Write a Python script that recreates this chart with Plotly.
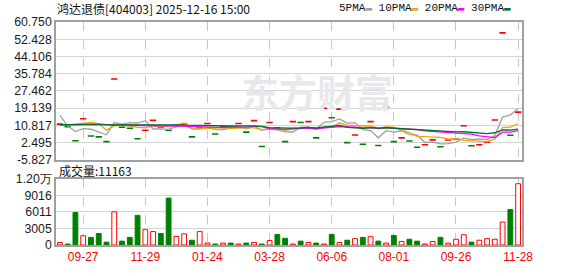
import plotly.graph_objects as go

# ---------------- data ----------------
dates = [
    "2024-09-06", "2024-09-13", "2024-09-20", "2024-09-27", "2024-10-11", "2024-10-18",
    "2024-10-25", "2024-11-01", "2024-11-08", "2024-11-15", "2024-11-22", "2024-11-29",
    "2024-12-06", "2024-12-13", "2024-12-20", "2024-12-27", "2025-01-03", "2025-01-10",
    "2025-01-17", "2025-01-24", "2025-02-07", "2025-02-14", "2025-02-21", "2025-02-28",
    "2025-03-07", "2025-03-14", "2025-03-21", "2025-03-28", "2025-04-03", "2025-04-11",
    "2025-04-18", "2025-04-25", "2025-05-09", "2025-05-16", "2025-05-23", "2025-06-06",
    "2025-06-13", "2025-06-20", "2025-06-27", "2025-07-04", "2025-07-11", "2025-07-18",
    "2025-07-25", "2025-08-01", "2025-08-08", "2025-08-15", "2025-08-22", "2025-08-29",
    "2025-09-05", "2025-09-12", "2025-09-19", "2025-09-26", "2025-10-10", "2025-10-17",
    "2025-10-24", "2025-10-31", "2025-11-07", "2025-11-14", "2025-11-21", "2025-11-28",
]

close = [11.4, 10.2, 3.4, 14.0, 5.7, 5.25, 2.95, 33.2, 9.87, 9.4,
         4.35, 8.48, 13.24, 10.0, 8.48, 11.0, 11.4, 5.25, 9.5, 11.7,
         6.63, 10.2, 9.9, 11.7, 7.55, 13.1, 0.63, 12.2, 9.6, 2.94,
         12.63, 12.17, 12.63, 4.78, 19.1, 14.47, 18.65, 2.48, 6.17, 1.71,
         12.63, 1.1, 19.6, 2.94, 4.78, 3.25, 0.25, 1.45, 3.8, 0.5,
         3.75, 4.2, 10.65, 0.96, 1.42, 2.65, 13.4, 55.5, 6.04, 17.2]

rising = [1, 0, 0, 1, 0, 0, 0, 1, 0, 0,
          0, 1, 1, 0, 0, 1, 1, 0, 1, 1,
          0, 1, 0, 1, 0, 1, 0, 1, 0, 0,
          1, 0, 1, 0, 1, 0, 1, 0, 1, 0,
          1, 0, 1, 0, 1, 0, 0, 1, 1, 0,
          1, 1, 1, 0, 1, 1, 1, 1, 0, 1]

volume = [458, 172, 5920, 1680, 1390, 2090, 520, 6040, 700, 1390,
          5400, 2790, 2440, 2090, 8540, 1570, 2030, 870, 2440, 350,
          172, 350, 350, 172, 350, 465, 172, 810, 1920, 1220,
          172, 700, 465, 350, 172, 1920, 465, 870, 1160, 1390,
          1510, 700, 350, 1740, 640, 1045, 700, 172, 640, 1390,
          350, 1045, 1860, 520, 870, 1160, 1045, 4180, 6450, 11163]

ma5 = [15.6, 10.6, 7.8, 9.2, 8.95, 7.7, 6.26, 12.2, 11.43, 12.1,
       11.95, 13.06, 9.07, 9.1, 8.91, 10.24, 10.82, 9.23, 9.13, 9.77,
       8.9, 8.66, 9.59, 10.03, 9.2, 10.49, 8.58, 9.04, 8.62, 7.69,
       7.6, 9.9, 9.99, 9.03, 12.26, 12.63, 13.93, 11.9, 12.17, 8.7,
       8.33, 4.82, 8.24, 7.6, 8.21, 6.33, 6.16, 2.53, 2.71, 1.85,
       1.95, 2.74, 4.58, 4.01, 4.2, 3.98, 5.82, 14.79, 15.8, 18.96]

ma10 = [11.09, 10.9, 11.4, 11.86, 12.2, 11.55, 8.5, 10.6, 10.78, 10.54,
        9.83, 9.66, 10.64, 10.24, 10.52, 11.1, 11.94, 9.15, 9.11, 9.34,
        9.57, 9.74, 9.41, 9.58, 9.49, 9.7, 8.62, 9.32, 9.33, 8.45,
        9.05, 9.25, 9.52, 8.83, 9.99, 10.13, 11.93, 10.96, 10.62, 10.5,
        10.5, 9.39, 10.09, 9.91, 8.48, 7.36, 5.52, 5.42, 5.18, 5.06,
        4.17, 4.48, 3.59, 3.39, 3.05, 2.99, 4.3, 9.71, 9.93, 11.6]

ma20 = [11.0, 11.1, 11.3, 11.5, 11.5, 11.5, 11.2, 10.8, 10.8, 10.8,
        10.8, 10.8, 10.8, 10.7, 10.6, 10.5, 10.4, 10.2, 10.0, 9.94,
        9.7, 9.7, 10.03, 9.91, 10.0, 10.4, 10.28, 9.23, 9.22, 8.9,
        9.31, 9.49, 9.46, 9.2, 9.73, 9.9, 10.26, 10.12, 9.96, 9.46,
        9.76, 9.31, 9.8, 9.36, 9.22, 8.73, 8.71, 8.17, 7.88, 7.76,
        7.32, 6.92, 6.82, 6.63, 5.75, 5.16, 4.9, 7.55, 7.54, 8.31]

ma30 = [11.2, 11.2, 11.2, 11.3, 11.3, 11.3, 11.2, 11.2, 11.2, 11.2,
        11.2, 11.2, 11.2, 11.2, 11.2, 11.1, 10.9, 10.8, 10.8, 10.8,
        10.4, 10.3, 10.5, 10.6, 10.6, 10.6, 10.2, 9.7, 9.6, 9.44,
        9.48, 9.55, 9.86, 9.55, 10.0, 10.31, 10.83, 9.81, 9.69, 9.43,
        9.71, 9.46, 9.67, 9.43, 9.31, 9.05, 8.68, 8.55, 8.36, 7.99,
        7.89, 7.69, 7.72, 7.36, 7.16, 6.81, 7.24, 8.68, 8.56, 9.04]

price_ticks = [-5.827, 2.495, 10.817, 19.139, 27.462, 35.784, 44.106, 52.428, 60.750]
vol_ticks = [0, 3005, 6011, 9016, 12022]
vol_tick_text = ["0", "3005", "6011", "9016", "1.20万"]
x_tick_dates = ["2024-09-27", "2024-11-29", "2025-01-24", "2025-03-28",
                "2025-06-06", "2025-08-01", "2025-09-26", "2025-11-28"]
x_tick_text = ["09-27", "11-29", "01-24", "03-28", "06-06", "08-01", "09-26", "11-28"]

title_text = "鸿达退债[404003] 2025-12-16 15:00"
vol_title = "成交量:11163"
ma_names = ["5PMA", "10PMA", "20PMA", "30PMA"]
ma_colors = ["#a0a0a0", "#f0a30a", "#ff00ff", "#006f32"]

RED = "#ff0000"
GREEN = "#008000"

# ---------------- figure ----------------
fig = go.Figure()

dash_colors = [RED if r else GREEN for r in rising]
fig.add_trace(go.Scatter(
    x=dates, y=close, mode="markers", xaxis="x2", yaxis="y2",
    marker=dict(symbol="line-ew", size=4.5, color=dash_colors,
                line=dict(color=dash_colors, width=1.6)),
    showlegend=False, hoverinfo="skip"))

for vals, col in zip([ma5, ma10, ma20, ma30], ma_colors):
    fig.add_trace(go.Scatter(
        x=dates, y=vals, mode="lines", xaxis="x2", yaxis="y2",
        line=dict(color=col, width=1.3), showlegend=False, hoverinfo="skip"))

bar_fill = ["#ffffff" if r else GREEN for r in rising]
bar_line = [RED if r else GREEN for r in rising]
fig.add_trace(go.Bar(
    x=dates, y=volume, xaxis="x", yaxis="y", width=0.62,
    marker=dict(color=bar_fill, line=dict(color=bar_line, width=1)),
    showlegend=False, hoverinfo="skip"))

grid_col = "#d4d4d4"
frame_col = "#a0a0a0"
tick_font = dict(family="Liberation Sans", size=12.3, color="#1a1a1a")

fig.update_layout(
    width=578, height=276,
    margin=dict(l=56, r=56, t=22, b=21),
    paper_bgcolor="white", plot_bgcolor="white",
    font=dict(family="Liberation Sans", size=12, color="#1a1a1a"),
    bargap=0.3,
    xaxis=dict(anchor="y", domain=[0, 1], type="category", categoryorder="array",
               categoryarray=dates, range=[-0.5, 59.5],
               tickmode="array", tickvals=x_tick_dates, ticktext=x_tick_text,
               tickfont=dict(family="Liberation Sans", size=12, color=RED),
               showgrid=True, gridcolor="#c8c8c8", griddash="dash", gridwidth=1,
               showline=True, mirror=True, linecolor=frame_col, linewidth=1.5,
               ticks="", zeroline=False),
    xaxis2=dict(anchor="y2", domain=[0, 1], matches="x", type="category",
                categoryorder="array", categoryarray=dates,
                tickmode="array", tickvals=x_tick_dates, showticklabels=False,
                showgrid=True, gridcolor="#c8c8c8", griddash="dash", gridwidth=1,
                showline=True, mirror=True, linecolor=frame_col, linewidth=1.5,
                ticks="", zeroline=False),
    yaxis2=dict(domain=[0.382, 1], anchor="x2", range=[-5.827, 60.75],
                tickmode="array", tickvals=price_ticks,
                ticktext=[f"{v:.3f}" for v in price_ticks], tickfont=tick_font,
                showgrid=True, gridcolor=grid_col, gridwidth=1,
                showline=True, mirror=True, linecolor=frame_col, linewidth=1.5,
                ticks="", zeroline=False),
    yaxis=dict(domain=[0, 0.296], anchor="x", range=[0, 12022],
               tickmode="array", tickvals=vol_ticks, ticktext=vol_tick_text,
               tickfont=tick_font,
               showgrid=True, gridcolor=grid_col, gridwidth=1,
               showline=True, mirror=True, linecolor=frame_col, linewidth=1.5,
               ticks="", zeroline=False),
)

# watermark
fig.add_annotation(text="东方财富", xref="paper", yref="paper", x=0.56, y=0.695,
                   xanchor="center", yanchor="middle", showarrow=False,
                   font=dict(family="Noto Sans CJK SC", size=38, color="#e8e8ec", weight=700))

# title
fig.add_annotation(text=title_text, xref="paper", yref="paper", x=-0.002, y=1.062,
                   xanchor="left", yanchor="middle", showarrow=False,
                   font=dict(family="Noto Sans CJK SC", size=12, color="#111111"))

# legend (text followed by colour marker)
legend_html = " ".join(f"{n}<span style='color:{c}'>▬</span>" for n, c in zip(ma_names, ma_colors))
fig.add_annotation(text=legend_html, xref="paper", yref="paper", x=0.603, y=1.062,
                   xanchor="left", yanchor="middle", showarrow=False,
                   font=dict(family="Liberation Mono", size=11, color="#111111"))

# volume title
fig.add_annotation(text=vol_title, xref="paper", yref="paper", x=0.002, y=0.335,
                   xanchor="left", yanchor="middle", showarrow=False,
                   font=dict(family="Noto Sans CJK SC", size=12, color="#111111"))

fig.write_html("out.html")
